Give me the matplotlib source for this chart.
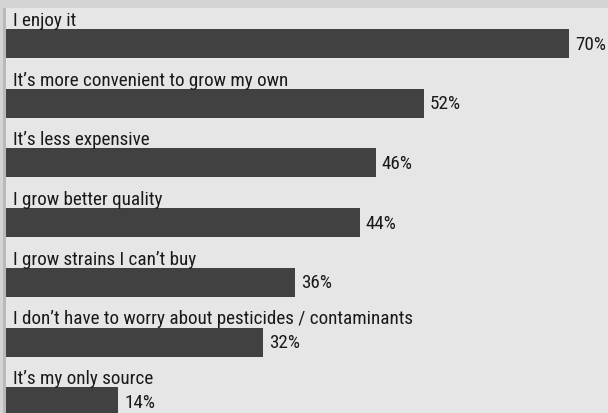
import matplotlib
matplotlib.use("Agg")
import matplotlib.pyplot as plt
from matplotlib.patches import Rectangle
from matplotlib import font_manager as fm

reasons = [
    "I enjoy it",
    "It\u2019s more convenient to grow my own",
    "It\u2019s less expensive",
    "I grow better quality",
    "I grow strains I can\u2019t buy",
    "I don\u2019t have to worry about pesticides / contaminants",
    "It\u2019s my only source",
]
shares = [70, 52, 46, 44, 36, 32, 14]

W, H = 608, 414
BG = "#e6e6e7"
BAND = "#d4d4d5"
BAR = "#414142"
TXT = "#1a1a1a"


def _is_regular(f):
    w = f.weight
    if isinstance(w, str):
        w = {"normal": 400, "regular": 400, "book": 400}.get(w.lower(), 0)
    return f.style == "normal" and w == 400


def pick_narrow_font():
    """Return a FontProperties for the narrowest regular sans face available."""
    prefs = ["Roboto Condensed", "Liberation Sans Narrow", "Open Sans Condensed",
             "Noto Sans Condensed", "DejaVu Sans"]
    entries = [f for f in fm.fontManager.ttflist if _is_regular(f)]
    for name in prefs:
        for f in entries:
            if f.name == name and (name != "DejaVu Sans" or "ondensed" in f.fname
                                   or f.stretch in ("condensed", "semi-condensed")):
                return fm.FontProperties(fname=f.fname)
    for f in entries:
        if "Condensed" in f.fname or "Narrow" in f.fname:
            return fm.FontProperties(fname=f.fname)
    return fm.FontProperties(family="DejaVu Sans", stretch="condensed")


fig = plt.figure(figsize=(W / 100, H / 100), dpi=100)
fig.patch.set_facecolor(BG)

# top band and left rule, in figure fractions
fig.patches.append(Rectangle((0, (H - 9) / H), 1, 9 / H, transform=fig.transFigure,
                             facecolor=BAND, edgecolor="none", zorder=0))
fig.patches.append(Rectangle((0, 0), 3 / W, 1, transform=fig.transFigure,
                             facecolor=BAND, edgecolor="none", zorder=0))
fig.patches.append(Rectangle((3 / W, 0), 2.5 / W, (H - 9) / H, transform=fig.transFigure,
                             facecolor="#b9b9ba", edgecolor="none", zorder=0))

left_px = 5.5
ax = fig.add_axes([left_px / W, 0, (W - left_px) / W, (H - 9) / H])
ax.set_facecolor("none")
px_per_pct = 8.05
ax.set_xlim(0, (W - left_px) / px_per_pct)

pitch = 59.7
first_center = 44.5
ax.set_ylim((H - first_center) / pitch, (9 - first_center) / pitch)

bar_h = 29 / pitch
ypos = list(range(len(reasons)))
ax.barh(ypos, shares, height=bar_h, color=BAR, edgecolor="none")

# size the label face so the second label spans about 278 px
fp = pick_narrow_font()
probe = fig.text(0, 0, reasons[1], fontproperties=fp, fontsize=14)
fig.canvas.draw()
wpx = probe.get_window_extent().width
probe.remove()
fsize = min(15.5, 14 * 278 / wpx)
fp.set_size(fsize)

for i, (r, v) in enumerate(zip(reasons, shares)):
    ax.text(7 / px_per_pct, i - bar_h / 2 - 4 / pitch, r, ha="left", va="baseline",
            fontproperties=fp, color=TXT)
    ax.text(v + 6 / px_per_pct, i, f"{v}%", ha="left", va="center",
            fontproperties=fp, color=TXT)

ax.axis("off")
fig.savefig("out.png", dpi=100, facecolor=BG)
